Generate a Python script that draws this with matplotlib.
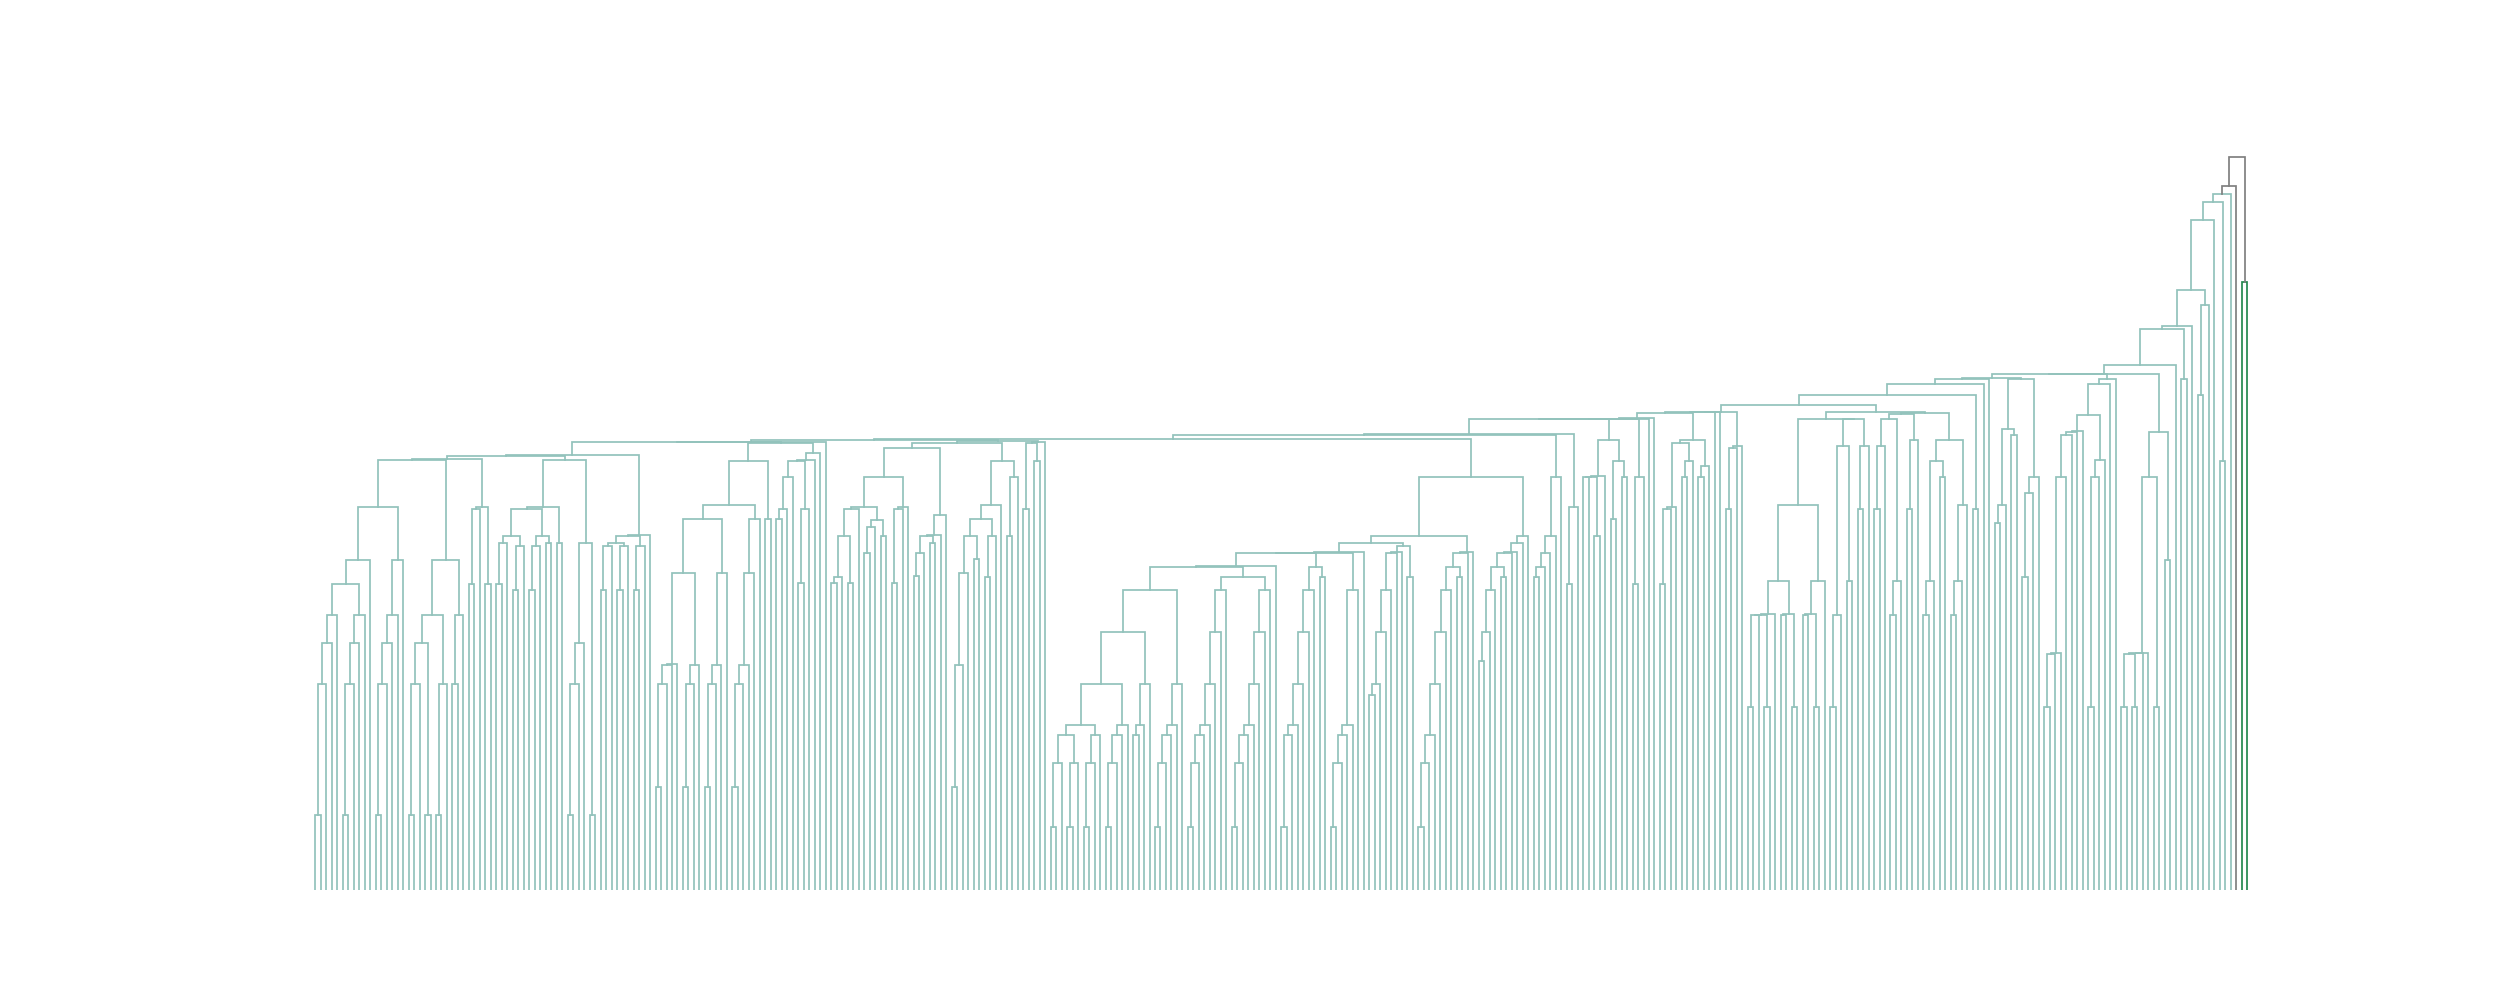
import matplotlib
matplotlib.use("Agg")
import matplotlib.pyplot as plt

o = None  # a leaf


def cat(base, *heights):
    """Left-leaning chain: start from a node (or a leaf pair merged at `base`)
    and merge one more leaf at each following height."""
    node = base if isinstance(base, tuple) else (o, o, base)
    for h in heights:
        node = (node, o, h)
    return node


# ---------------- merge heights ----------------
A = cat(75, 206, 247, 275)
B = cat(75, 206, 247, 275)
AB = cat((A, B, 306), 330)
C = cat(75, 206, 247, 275, 330)
ABC = (AB, C, 383)
D1 = (cat(75, 206), (o, o, 75), 247)
D2 = cat(75, 206)
D3 = cat(206, 275)
D = ((D1, D2, 275), D3, 330)
E = (cat(306, 381), (o, o, 306), 383)
Fa = (cat(306, 347), cat(300, 344), 354)
Fb = (cat(300, 344), (o, o, 347), 354)
Fl = ((Fa, Fb, 381), (o, o, 347), 383)
Fr = (cat(75, 206, 247), (o, o, 75), 347)
F = (Fl, Fr, 430)
G = cat(((cat(300, 344), cat(300, 344), 347), cat(300, 344), 354), 354.5)
N4 = ((((ABC, D, 430), E, 430.5), F, 434), G, 434.5)

Ha = cat(103, 206, 225, 226)
Hb = cat(103, 206, 225)
Hc = cat(103, 206, 225, 317)
Hd = cat(103, 206, 225, 317, 371)
H = ((((Ha, Hb, 317), Hc, 371), Hd, 385), (o, o, 371), 429)
Ia = cat((cat(371, 381, 413), cat(307, 381), 429), 429.5)
I = cat(Ia, 437)
a_grp = cat((N4, (H, I, 447), 447.5), 448)

Ja = (cat(307, 313), (o, o, 307), 354)
Jb = (cat(337, 363), (o, o, 354), 370)
J = (((Ja, o, 381), Jb, 383), cat(307, 381, 383), 413)
K = cat((cat(314, 337), (o, o, 347), 354), 354.5, 375)
Ma = (cat(103, 225, 317), (o, o, 331), 354)
Mb = cat(313, 354)
M = (cat((Ma, Mb, 371), 385), cat(354, 413), 429)
b_grp = ((J, K, 442), M, 447)
c_grp = ((o, o, 381), (o, o, 429), 447)
abcd = (a_grp, (b_grp, (c_grp, o, 448), 449), 450)

Pa = ((cat(63, 127), cat(63, 127), 155), cat(63, 127, 155), 165)
Pb = cat(63, 127, 155, 165)
Pc = cat(155, 165, 206)
Pd = cat(63, 127, 155, 165, 206)
P = (((Pa, Pb, 206), Pc, 258), Pd, 300)
Q1 = cat(63, 127, 155, 165, 206, 258, 300)
Q2 = cat(63, 127, 155, 165, 206, 258, 300)
S = cat((P, (Q1, Q2, 313), 323), 323.5)
R1 = (cat(63, 155, 165, 206, 258, 300), (o, o, 313), 323)
R2 = cat(63, 127, 155, 165, 300)
T = cat(((S, R1, 337), R2, 337.3), 337.6)
U = (cat(195, 206, 258, 300, 337, 337.5), (o, o, 313), 344)
V = (T, U, 347)
Wa = (cat(63, 127, 155, 206, 258, 300), (o, o, 313), 323)
W = cat(Wa, 337, 337.5)
X = cat((cat(229, 258, 300), (o, o, 313), 323), 337, 337.5, 347, 354)
VWX = ((V, W, 354), X, 413)
chain450 = (abcd, VWX, 450.5)

Y1 = cat(313, 323, 337, 354, 413)
Y2 = cat(306, 383)
Zl = ((chain450, Y1, 455), Y2, 455.5)
Z1a = cat(((o, o, 413), (o, o, 354), 413.3), 413.6)
Z1 = (Z1a, ((o, o, 371), (o, o, 413), 429), 450)
Z2 = cat(306, 413)
EE = cat(((Zl, Z1, 471), Z2, 471.2), 471.4, 471.6)
AA = ((cat(306, 381, 383), cat(413, 429), 447), cat(413, 424), 450)
BB = cat(381, 442, 444)
FF = (cat((EE, AA, 476.7), 478, 478.2), BB, 478.4)

CC1 = cat((cat(183, 275), (o, o, 183), 275.3), 275.6)
CC2 = ((o, o, 275), (o, o, 183), 275.5)
CC3 = cat(((o, o, 275), (o, o, 183), 275.5), 309)
CC = ((CC1, CC2, 309), CC3, 385)
DD = (cat(183, 275), (o, o, 309), 444)
G1b = cat(381, 444)
GG = (CC, (DD, G1b, 471), 471.3)
G2b = (cat(381, 444), cat(275, 309), 471)
G3 = cat(381, 450)
G4 = ((cat(275, 309), (o, o, 413), 429), cat(275, 309, 385), 450)
GGG = (GG, ((G2b, G3, 476), G4, 476.5), 478.3)
A1 = cat(((FF, GGG, 485), (o, o, 381), 495), 506, 511.3)
HH1 = (cat(367, 385), (o, o, 455), 461)
HH2 = cat(313, 397, 413)
A3 = (A1, (HH1, HH2, 511.3), 511.6)
II1 = cat(183, 236, 236.5, 413)
II = cat(II1, 455, 458, 458.5)
II2 = cat(183, 413, 430)
C773 = cat((II, II2, 475.3), 506, 511.3)
Dd = ((cat(((o, o, 183), (o, o, 183), 236), 236.5, 237), (o, o, 183), 413),
      (o, o, 330), 458)
n732 = ((A3, C773, 516), Dd, 516.3)
n588 = cat(((n732, o, 525), (o, o, 511.3), 561), 564)
n480 = (n588, cat(495, 585), 600)
n191 = cat(((n480, o, 670), (o, o, 429), 688.3), 696.3)
green_grp = (o, o, 608.3)
root = ((n191, o, 704.3), green_grp, 733.3)

color_threshold = 700
cluster_colors = ["#92c2bb", "#25894f"]
above_color = "#808080"

# ---------------- layout (scipy-style dendrogram) ----------------
segments = []
leaf_counter = [0]
cluster_counter = [0]


def build(node, color):
    if node is None:
        x = 5 + 10 * leaf_counter[0]
        leaf_counter[0] += 1
        return x, 0.0
    left, right, h = node
    if color is None and h <= color_threshold:
        color = cluster_colors[cluster_counter[0] % len(cluster_colors)]
        cluster_counter[0] += 1
    xl, hl = build(left, color)
    xr, hr = build(right, color)
    segments.append(([xl, xl, xr, xr], [hl, h, h, hr],
                     color if color is not None else above_color))
    return (xl + xr) / 2.0, h


build(root, None)
n_leaves = leaf_counter[0]
if n_leaves != 353:
    raise SystemExit(f"leaf count {n_leaves}")

fig = plt.figure(figsize=(25, 10), dpi=100)
ax = fig.add_axes([0.125, 0.11, 0.775, 0.77])
for xs, ys, c in segments:
    ax.plot(xs, ys, color=c, lw=1.25, solid_joinstyle="miter")
ax.set_xlim(0, 10 * n_leaves)
ax.set_ylim(0, 733.3 * 1.05)
ax.axis("off")
fig.savefig("out.png", dpi=100)
